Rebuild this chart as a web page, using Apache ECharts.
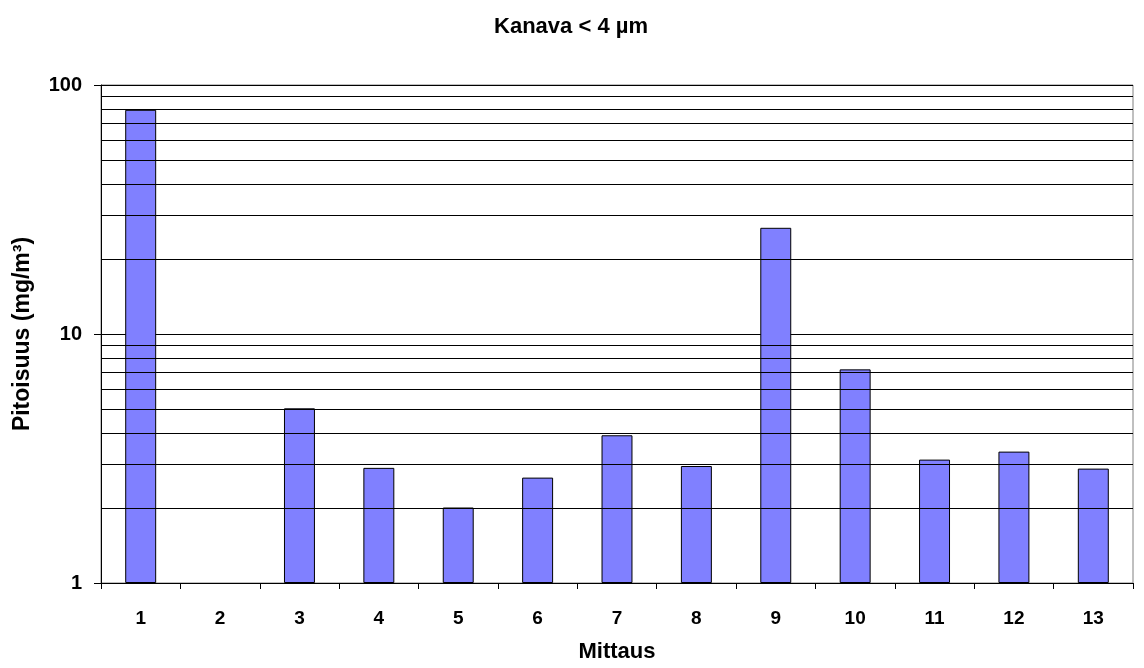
<!DOCTYPE html>
<html>
<head>
<meta charset="utf-8">
<script src="https://cdn.jsdelivr.net/npm/echarts@6/dist/echarts.min.js"></script>
<style>
  html, body { margin: 0; padding: 0; background: #fff; }
  #chart { width: 1144px; height: 668px; }
</style>
</head>
<body>
<div id="chart"></div>
<script>
// Measurement numbers along the x axis
const categories = ['1', '2', '3', '4', '5', '6', '7', '8', '9', '10', '11', '12', '13'];
// Concentration in mg/m³ (measurement 2 has no value)
const values = [79.5, null, 5.03, 2.9, 2.01, 2.65, 3.92, 2.95, 26.7, 7.21, 3.13, 3.37, 2.88];
// Intermediate horizontal lines of the logarithmic scale
const minorGridValues = [2, 3, 4, 5, 6, 7, 8, 9, 20, 30, 40, 50, 60, 70, 80, 90];

const font = 'Liberation Sans, Arial, sans-serif';
const chart = echarts.init(document.getElementById('chart'));

chart.setOption({
  animation: false,
  backgroundColor: '#fff',
  title: {
    text: 'Kanava < 4 µm',
    left: 566,
    top: 11,
    textAlign: 'center',
    textStyle: { fontFamily: font, fontSize: 22, fontWeight: 'bold', color: '#000' }
  },
  grid: {
    left: 101, right: 11, top: 85, bottom: 81,
    show: true, borderColor: '#808080', borderWidth: 1, backgroundColor: 'transparent'
  },
  xAxis: {
    type: 'category',
    data: categories,
    name: 'Mittaus',
    nameLocation: 'middle',
    nameGap: 58,
    nameTextStyle: { fontFamily: font, fontSize: 22, fontWeight: 'bold', color: '#000' },
    axisLine: { lineStyle: { color: '#000', width: 1 } },
    axisTick: { show: true, length: 6, lineStyle: { color: '#000' } },
    axisLabel: { fontFamily: font, fontSize: 19, fontWeight: 'bold', color: '#000', margin: 26 }
  },
  yAxis: {
    type: 'log',
    logBase: 10,
    min: 1,
    max: 100,
    name: 'Pitoisuus (mg/m³)',
    nameLocation: 'middle',
    nameGap: 67,
    nameRotate: 90,
    nameTextStyle: { fontFamily: font, fontSize: 23, fontWeight: 'bold', color: '#000' },
    axisLine: { show: true, lineStyle: { color: '#000', width: 1 } },
    axisTick: { show: true, length: 7, lineStyle: { color: '#000' } },
    axisLabel: { fontFamily: font, fontSize: 20, fontWeight: 'bold', color: '#000', margin: 19 },
    splitLine: { show: true, lineStyle: { color: '#000', width: 1 } }
  },
  series: [
    {
      // minor log gridlines, kept behind the bars
      type: 'line',
      data: [],
      z: 1,
      silent: true,
      markLine: {
        silent: true,
        symbol: ['none', 'none'],
        label: { show: false },
        lineStyle: { color: '#000', width: 1, type: 'solid' },
        data: minorGridValues.map(v => ({ yAxis: v }))
      }
    },
    {
      type: 'bar',
      data: values,
      z: 3,
      barWidth: '39%',
      itemStyle: { color: '#8080ff', borderColor: '#000', borderWidth: 1 }
    }
  ]
});
</script>
</body>
</html>
